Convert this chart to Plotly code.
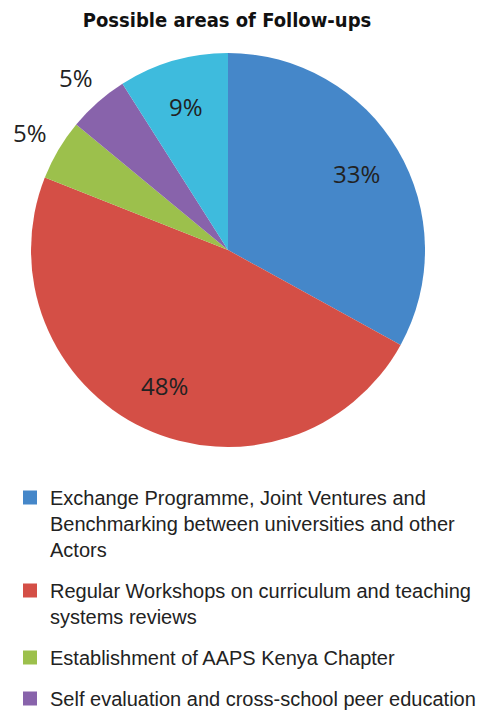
import math
import plotly.graph_objects as go

title = "Possible areas of Follow-ups"
slice_names = [
    "Exchange Programme, Joint Ventures and Benchmarking between universities and other Actors",
    "Regular Workshops on curriculum and teaching systems reviews",
    "Establishment of AAPS Kenya Chapter",
    "Self evaluation and cross-school peer education",
    "Other",
]
legend_labels = [
    "Exchange Programme, Joint Ventures and<br>Benchmarking between universities and other<br>Actors",
    "Regular Workshops on curriculum and teaching<br>systems reviews",
    "Establishment of AAPS Kenya Chapter",
    "Self evaluation and cross-school peer education",
]
values = [33, 48, 5, 5, 9]
colors = ["#4587C9", "#D44F46", "#9CC04C", "#8863AB", "#3EBBDD"]
label_inside = [True, True, False, False, True]

W, H = 484, 714
cx, cy, r = 228, 250, 197

fig = go.Figure()
fig.add_trace(go.Pie(
    labels=slice_names,
    values=values,
    sort=False,
    direction="clockwise",
    rotation=0,
    marker=dict(colors=colors, line=dict(width=0)),
    textinfo="none",
    showlegend=False,
    hoverinfo="label+percent",
    domain=dict(x=[(cx - r) / W, (cx + r) / W], y=[(H - cy - r) / H, (H - cy + r) / H]),
))

# percentage labels placed at each slice's mid-angle (Excel-style placement)
total = sum(values)
cum = 0
annotations = []
for v, inside in zip(values, label_inside):
    mid = (cum + v / 2) / total * 2 * math.pi
    cum += v
    k = 0.76 if inside else 1.17
    px = cx + k * r * math.sin(mid)
    py = cy - k * r * math.cos(mid)
    annotations.append(dict(
        x=px / W, y=1 - py / H, xref="paper", yref="paper",
        text=f"{round(v / total * 100)}%", showarrow=False,
        xanchor="center", yanchor="middle",
        font=dict(family="Open Sans", size=24, color="#222222"),
    ))

for i, lab in enumerate(legend_labels):
    fig.add_trace(go.Scatter(
        x=[None], y=[None], mode="markers", name=lab,
        legendgroup=f"g{i}",
        marker=dict(symbol="square", size=14, color=colors[i], line=dict(width=0)),
        showlegend=True,
    ))

fig.update_layout(
    width=W, height=H,
    margin=dict(l=0, r=0, t=0, b=0, autoexpand=False),
    paper_bgcolor="white", plot_bgcolor="white",
    xaxis=dict(visible=False), yaxis=dict(visible=False),
    annotations=annotations,
    title=dict(text=f"<b>{title}</b>", x=227 / W, xanchor="center",
               y=1 - 20 / H, yanchor="middle", yref="container",
               font=dict(family="DejaVu Sans Condensed", size=20, color="#111111")),
    legend=dict(x=10 / W, xanchor="left", y=1 - 478 / H, yanchor="top",
                valign="top", tracegroupgap=12, itemwidth=30,
                font=dict(family="Liberation Sans", size=20, color="#222222"),
                bgcolor="rgba(0,0,0,0)"),
)

fig.write_html("out.html")
